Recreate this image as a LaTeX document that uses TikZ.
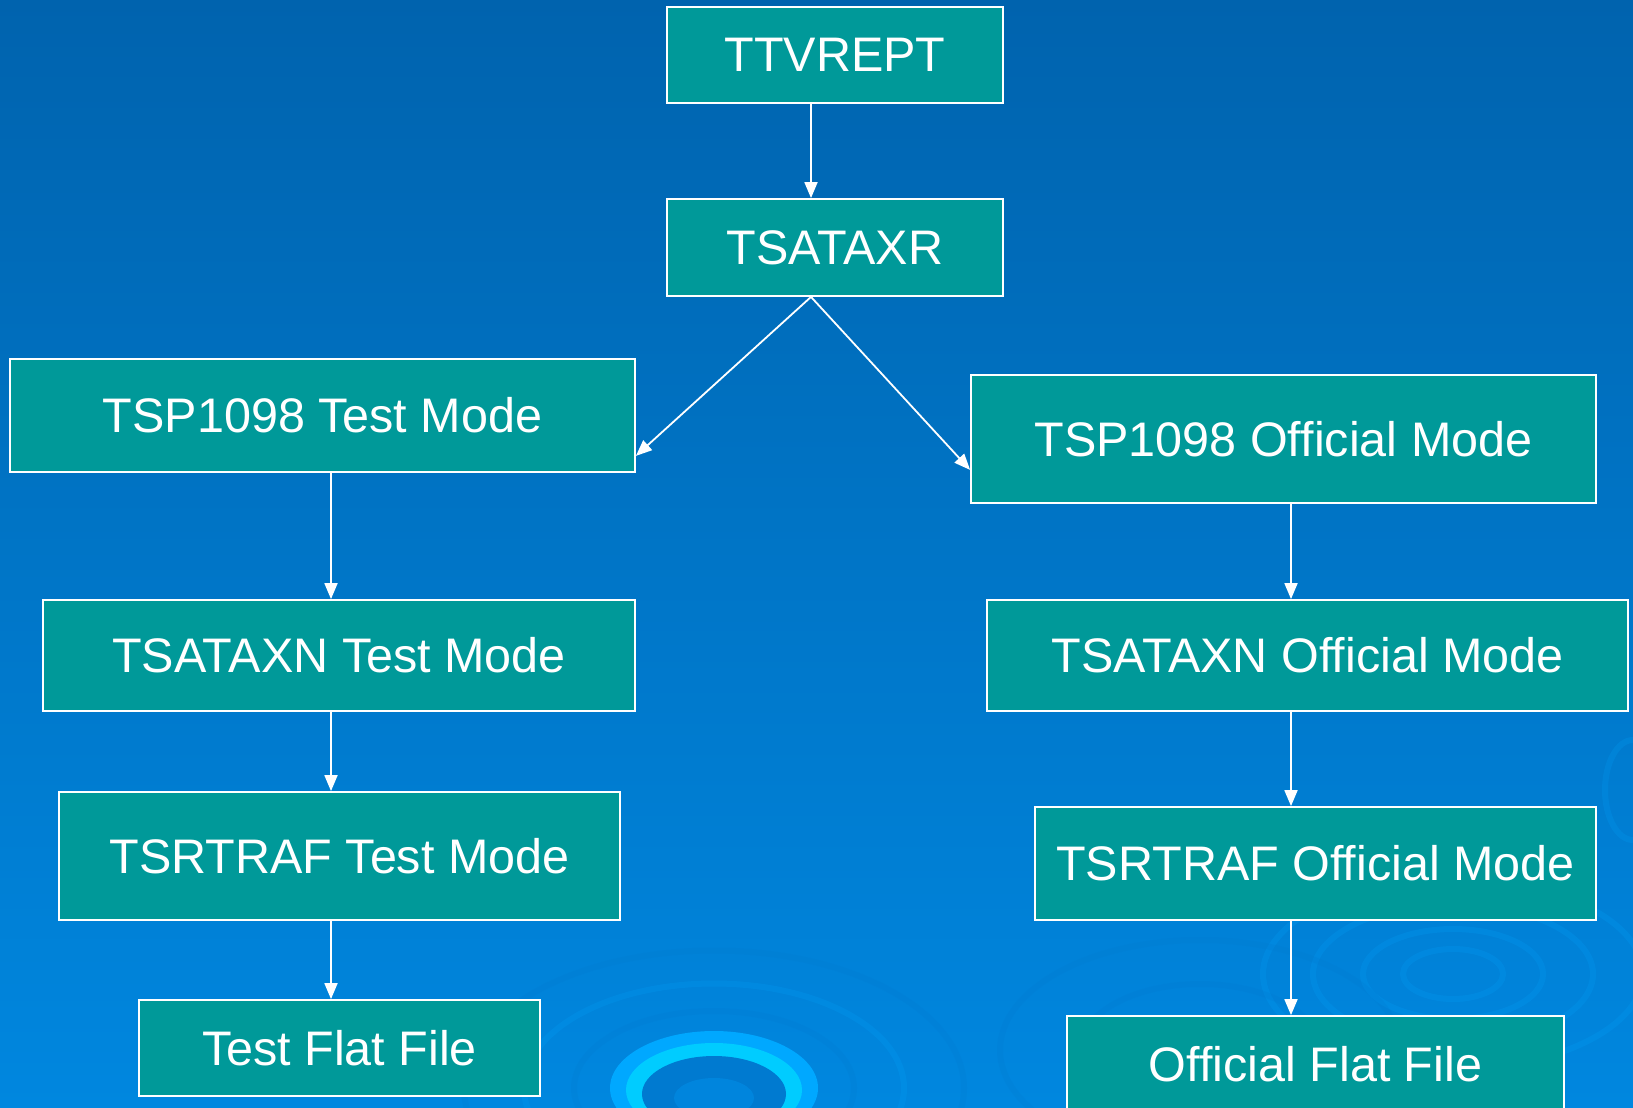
\documentclass[tikz,border=0pt]{standalone}
\usepackage{fontspec}
\setmainfont{Liberation Sans}
\usetikzlibrary{positioning, arrows.meta, calc}

\definecolor{bgtop}{HTML}{0063AE}
\definecolor{bgbot}{HTML}{0087DF}
\definecolor{boxteal}{HTML}{009999}
\definecolor{ringlt}{HTML}{00A8FF}
\definecolor{ringcy}{HTML}{00CCFF}
\definecolor{ringdk}{HTML}{0077CC}

\begin{document}
\begin{tikzpicture}[x=1pt, y=-1pt,
	box/.style={draw=white, line width=1.8pt, fill=boxteal, text=white, inner sep=0pt,
		font=\fontsize{48.5}{56}\selectfont},
	arr/.style={draw=white, line width=1.8pt, -{Triangle[length=16pt, width=13pt]}},
	ripple/.style={line width=6pt, opacity=0.18}]
	\useasboundingbox (0,0) rectangle (1633,1108);
	\clip (0,0) rectangle (1633,1108);
	\shade[top color=bgtop, bottom color=bgbot] (0,0) rectangle (1633,1108);
	
	% ripples in the background
	\foreach \r/\c in {250/ringdk, 190/ringlt, 140/ringdk}
	\draw[ripple, color=\c] (714,1088) ellipse ({\r} and {\r*0.55});
	\fill[ringlt] (714,1088) ellipse (104 and 57);
	\fill[ringcy] (714,1090) ellipse (88 and 47);
	\fill[ringdk!80!bgbot] (714,1094) ellipse (72 and 38);
	\fill[bgbot!90!ringdk] (714,1098) ellipse (40 and 20);
	
	\foreach \r in {50, 90, 140, 190}
	\draw[ripple, color=ringlt] (1453,974) ellipse ({\r} and {\r*0.5});
	\foreach \r in {120, 200}
	\draw[ripple, color=ringdk] (1200,1050) ellipse ({\r} and {\r*0.55});
	\draw[ripple, color=ringlt] (1633,790) ellipse (28 and 50);
	
	\node[box, minimum width=336pt, minimum height=96pt] (ttvrept) at (835,55) {TTVREPT};
	\node[box, minimum width=336pt, minimum height=97pt] (tsataxr) at (835,247.5) {TSATAXR};
	
	\node[box, minimum width=625pt, minimum height=113pt] (tsptest) at (322.5,415.5) {TSP1098 Test Mode};
	\node[box, minimum width=592pt, minimum height=111pt] (taxtest) at (339,655.5) {TSATAXN Test Mode};
	\node[box, minimum width=561pt, minimum height=128pt] (trftest) at (339.5,856) {TSRTRAF Test Mode};
	\node[box, minimum width=401pt, minimum height=96pt] (flattest) at (339.5,1048) {Test Flat File};
	
	\node[box, minimum width=625pt, minimum height=128pt] (tspoff) at (1283.5,439) {TSP1098 Official Mode};
	\node[box, minimum width=641pt, minimum height=111pt] (taxoff) at (1307.5,655.5) {TSATAXN Official Mode};
	\node[box, minimum width=561pt, minimum height=113pt] (trfoff) at (1315.5,863.5) {TSRTRAF Official Mode};
	\node[box, minimum width=497pt, minimum height=96pt] (flatoff) at (1315.5,1064) {Official Flat File};
	
	\coordinate (mid) at (811,0);
	\coordinate (lcol) at (331,0);
	\coordinate (rcol) at (1291,0);
	
	\draw[arr] (ttvrept.south -| mid) -- (tsataxr.north -| mid);
	\draw[arr] (tsataxr.south -| mid) -- ([yshift=17pt]tsptest.south east);
	\draw[arr] (tsataxr.south -| mid) -- ([yshift=34pt]tspoff.south west);
	
	\draw[arr] (tsptest.south -| lcol) -- (taxtest.north -| lcol);
	\draw[arr] (taxtest.south -| lcol) -- (trftest.north -| lcol);
	\draw[arr] (trftest.south -| lcol) -- (flattest.north -| lcol);
	
	\draw[arr] (tspoff.south -| rcol) -- (taxoff.north -| rcol);
	\draw[arr] (taxoff.south -| rcol) -- (trfoff.north -| rcol);
	\draw[arr] (trfoff.south -| rcol) -- (flatoff.north -| rcol);
\end{tikzpicture}
\end{document}
